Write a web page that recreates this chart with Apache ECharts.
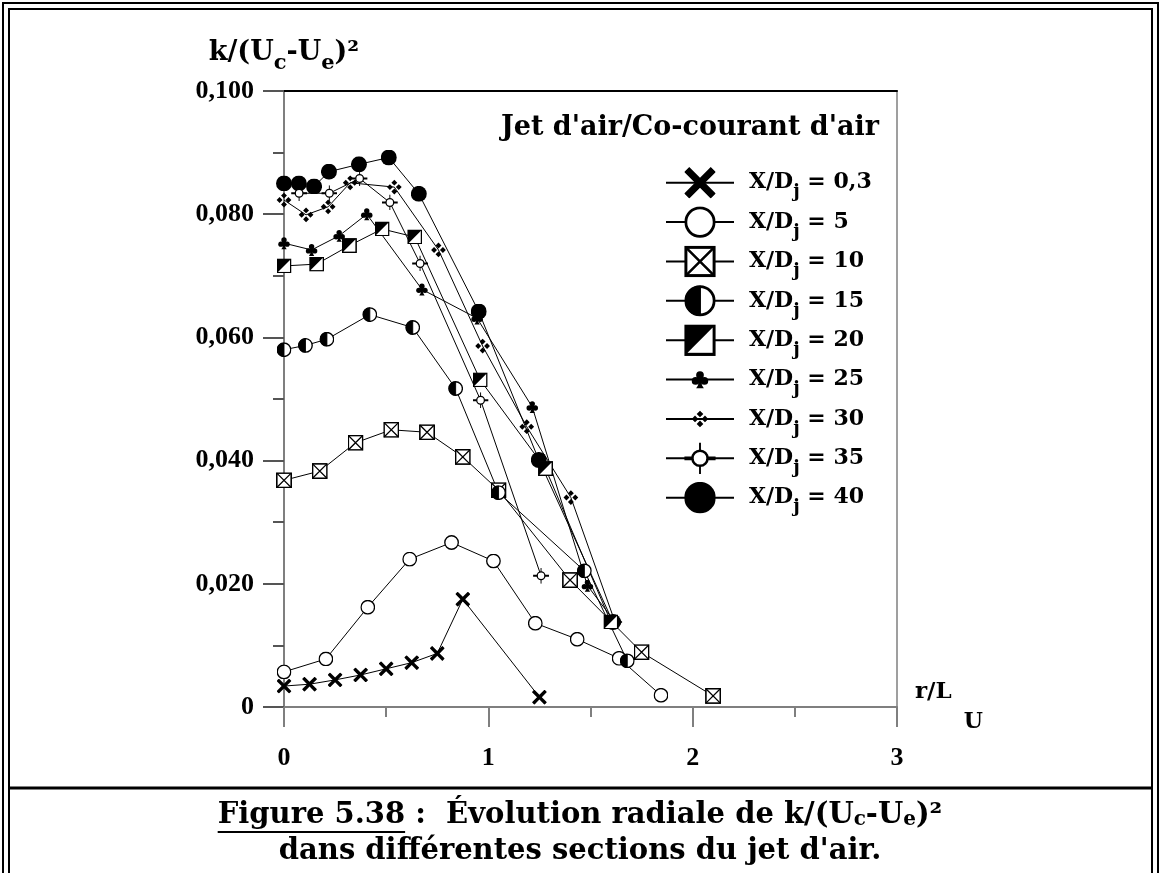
<!DOCTYPE html>
<html>
<head>
<meta charset="utf-8">
<script src="https://cdn.jsdelivr.net/npm/echarts@6/dist/echarts.min.js"></script>
<style>
html, body { margin: 0; padding: 0; background: #fff; }
#chart { width: 1161px; height: 873px; }
</style>
</head>
<body>
<div id="chart"></div>
<script>
// valeurs : r/L_U et k/(Uc-Ue)^2 pour chaque section X/Dj
var sections = ['0,3', '5', '10', '15', '20', '25', '30', '35', '40'];

var r03 = [0, 0.125, 0.25, 0.375, 0.5, 0.625, 0.75, 0.875, 1.25];
var k03 = [0.0034, 0.0037, 0.0044, 0.0052, 0.0062, 0.0072, 0.0087, 0.0175, 0.0016];

var r05 = [0, 0.205, 0.41, 0.615, 0.82, 1.025, 1.23, 1.435, 1.64, 1.845];
var k05 = [0.0057, 0.0078, 0.0162, 0.0240, 0.0267, 0.0237, 0.0136, 0.0110, 0.0079, 0.0019];

var r10 = [0, 0.175, 0.35, 0.525, 0.7, 0.875, 1.05, 1.4, 1.75, 2.1];
var k10 = [0.0368, 0.0383, 0.0429, 0.0450, 0.0446, 0.0406, 0.0352, 0.0206, 0.0089, 0.0018];

var r15 = [0, 0.105, 0.21, 0.42, 0.63, 0.84, 1.05, 1.47, 1.68];
var k15 = [0.0580, 0.0587, 0.0597, 0.0637, 0.0616, 0.0517, 0.0348, 0.0221, 0.0075];

var r20 = [0, 0.16, 0.32, 0.48, 0.64, 0.96, 1.28, 1.6];
var k20 = [0.0716, 0.0719, 0.0749, 0.0776, 0.0763, 0.0531, 0.0387, 0.0138];

var r25 = [0, 0.135, 0.27, 0.405, 0.675, 0.945, 1.215, 1.485, 1.62];
var k25 = [0.0753, 0.0742, 0.0765, 0.0800, 0.0678, 0.0631, 0.0487, 0.0197, 0.0138];

var r30 = [0, 0.108, 0.216, 0.324, 0.54, 0.756, 0.972, 1.188, 1.404, 1.62];
var k30 = [0.0823, 0.0799, 0.0812, 0.0851, 0.0844, 0.0742, 0.0586, 0.0455, 0.0340, 0.0138];

var r35 = [0.074, 0.222, 0.37, 0.518, 0.666, 0.962, 1.258];
var k35 = [0.0834, 0.0834, 0.0858, 0.0819, 0.0720, 0.0498, 0.0213];

var r40 = [0, 0.073, 0.147, 0.22, 0.367, 0.513, 0.66, 0.953, 1.247, 1.61];
var k40 = [0.0850, 0.0850, 0.0845, 0.0869, 0.0881, 0.0892, 0.0833, 0.0642, 0.0401, 0.0138];

var xTickLabels = ['0', '1', '2', '3'];
var yTickLabels = ['0', '0,020', '0,040', '0,060', '0,080', '0,100'];

var FONT = '"DejaVu Serif", serif';
var NUMFONT = '"Liberation Serif", serif';

// symboles dessinés en svg (parties blanches + noires)
function svgSym(body, vb) {
  vb = vb || '0 0 100 100';
  var p = vb.split(' ');
  var s = '<svg xmlns="http://www.w3.org/2000/svg" width="' + p[2] + '" height="' + p[3] +
    '" viewBox="' + vb + '">' + body + '</svg>';
  return 'image://data:image/svg+xml;charset=utf-8,' + encodeURIComponent(s);
}

var symCross = svgSym('<path d="M0,16 L16,0 L50,34 L84,0 L100,16 L66,50 L100,84 L84,100 L50,66 L16,100 L0,84 L34,50 Z" fill="#000"/>');
var symCircle = svgSym('<circle cx="50" cy="50" r="45" fill="#fff" stroke="#000" stroke-width="9"/>');
var symBoxX = svgSym('<rect x="5" y="5" width="90" height="90" fill="#fff" stroke="#000" stroke-width="10"/>' +
  '<path d="M5,5 L95,95 M95,5 L5,95" stroke="#000" stroke-width="8"/>');
var symHalfCircle = svgSym('<circle cx="50" cy="50" r="45" fill="#fff" stroke="#000" stroke-width="9"/>' +
  '<path d="M50,5 A45,45 0 0 0 50,95 Z" fill="#000" stroke="#000" stroke-width="6"/>');
var symHalfSquare = svgSym('<rect x="5" y="5" width="90" height="90" fill="#fff" stroke="#000" stroke-width="10"/>' +
  '<path d="M5,5 L95,5 L5,95 Z" fill="#000"/>');
var symClub = svgSym('<g fill="#000"><circle cx="50" cy="24" r="22"/><circle cx="25" cy="58" r="22"/>' +
  '<circle cx="75" cy="58" r="22"/><circle cx="50" cy="52" r="16"/>' +
  '<path d="M46,50 L54,50 L62,84 L72,100 L28,100 L38,84 Z"/></g>', '-40 -40 180 180');
var symDiamonds = svgSym('<path fill="#000" d="M50,0 L70,20 L50,40 L30,20 Z M20,30 L40,50 L20,70 L0,50 Z ' +
  'M80,30 L100,50 L80,70 L60,50 Z M50,60 L70,80 L50,100 L30,80 Z"/>', '-45 -45 190 190');
var symTarget = svgSym('<path d="M0,50 L100,50" stroke="#000" stroke-width="12"/>' +
  '<path d="M50,0 L50,100" stroke="#000" stroke-width="6"/>' +
  '<circle cx="50" cy="50" r="24" fill="#fff" stroke="#000" stroke-width="8"/>');
var symDisc = svgSym('<circle cx="50" cy="50" r="50" fill="#000"/>');

function pairs(r, k) {
  var out = [];
  for (var i = 0; i < r.length; i++) {
    out.push([r[i], k[i]]);
  }
  return out;
}

var seriesDefs = [
  [r03, k03, symCross, 15],
  [r05, k05, symCircle, 15],
  [r10, k10, symBoxX, 16],
  [r15, k15, symHalfCircle, 15],
  [r40, k40, symDisc, 16],
  [r25, k25, symClub, 22],
  [r30, k30, symDiamonds, 28],
  [r35, k35, symTarget, 16],
  [r20, k20, symHalfSquare, 15]
];
var seriesNames = [sections[0], sections[1], sections[2], sections[3], sections[8],
  sections[5], sections[6], sections[7], sections[4]];

var series = [];
for (var i = 0; i < seriesDefs.length; i++) {
  series.push({
    name: seriesNames[i],
    type: 'line',
    data: pairs(seriesDefs[i][0], seriesDefs[i][1]),
    symbol: seriesDefs[i][2],
    symbolSize: seriesDefs[i][3],
    showAllSymbol: true,
    lineStyle: { color: '#000', width: 1 },
    itemStyle: { color: '#000' },
    emphasis: { disabled: true }
  });
}

// largeur de texte, pour placer le soulignement de la légende de figure
var ctx = document.createElement('canvas').getContext('2d');
function tw(t, size) {
  ctx.font = 'bold ' + size + 'px "DejaVu Serif"';
  return ctx.measureText(t).width;
}
var capSize = 29, capSub = 20;
var capParts = ['Figure 5.38', ' :  Évolution radiale de k/(U', 'c', '-U', 'e', ')²'];
var capW = tw(capParts[0], capSize) + tw(capParts[1], capSize) + tw(capParts[2], capSub) +
  tw(capParts[3], capSize) + tw(capParts[4], capSub) + tw(capParts[5], capSize);
var capLeft = 580 - capW / 2;

var chart = echarts.init(document.getElementById('chart'));
chart.setOption({
  animation: false,
  backgroundColor: '#fff',
  title: {
    text: "Jet d'air/Co-courant d'air",
    left: 501, top: 114, padding: 0,
    textStyle: { fontFamily: FONT, fontWeight: 'bold', fontSize: 27, color: '#000' }
  },
  legend: {
    orient: 'vertical',
    left: 660, top: 162,
    itemWidth: 68, itemHeight: 39.4, itemGap: 4.6,
    selectedMode: false,
    data: sections,
    formatter: function (n) { return '{a|X/D}{s|j}{b| = ' + n + '}'; },
    textStyle: {
      fontFamily: FONT, fontWeight: 'bold', color: '#000',
      rich: {
        a: { fontFamily: FONT, fontWeight: 'bold', fontSize: 22, color: '#000', padding: [0, 0, 0, 10] },
        s: { fontFamily: FONT, fontWeight: 'bold', fontSize: 18, color: '#000', padding: [20, 0, 0, 0] },
        b: { fontFamily: FONT, fontWeight: 'bold', fontSize: 22, color: '#000' }
      }
    }
  },
  grid: { left: 284, right: 264, top: 91, bottom: 166, outerBoundsMode: 'none' },
  xAxis: [{
    type: 'value', min: 0, max: 3, interval: 1,
    axisLine: { show: true, onZero: false, lineStyle: { color: '#7f7f7f', width: 2 } },
    axisTick: { show: true, length: 20, lineStyle: { color: '#7f7f7f', width: 2 } },
    minorTick: { show: true, splitNumber: 2, length: 10, lineStyle: { color: '#7f7f7f', width: 2 } },
    splitLine: { show: false },
    axisLabel: {
      margin: 38, fontFamily: NUMFONT, fontWeight: 'bold', fontSize: 26, color: '#000',
      formatter: function (v) { return xTickLabels[Math.round(v)]; }
    },
    name: '{a|r/L}{u|U}',
    nameLocation: 'end', nameGap: 18,
    nameTextStyle: {
      rich: {
        a: { fontFamily: FONT, fontWeight: 'bold', fontSize: 23, color: '#000', padding: [0, 0, 30, 0] },
        u: { fontFamily: FONT, fontWeight: 'bold', fontSize: 22, color: '#000', padding: [30, 0, 0, 12] }
      }
    }
  }, {
    type: 'value', position: 'top', min: 0, max: 3,
    axisLine: { show: true, onZero: false, lineStyle: { color: '#000', width: 2 } },
    axisTick: { show: false }, axisLabel: { show: false }, splitLine: { show: false }
  }],
  yAxis: [{
    type: 'value', min: 0, max: 0.1, interval: 0.02,
    axisLine: { show: true, onZero: false, lineStyle: { color: '#7f7f7f', width: 2 } },
    axisTick: { show: true, length: 21, lineStyle: { color: '#555', width: 2 } },
    minorTick: { show: true, splitNumber: 2, length: 11, lineStyle: { color: '#555', width: 2 } },
    splitLine: { show: false },
    axisLabel: {
      margin: 30, fontFamily: NUMFONT, fontWeight: 'bold', fontSize: 26, color: '#000',
      formatter: function (v) { return yTickLabels[Math.round(v / 0.02)]; }
    },
    name: '{a|k/(U}{s|c}{a|-U}{s|e}{a|)²}',
    nameLocation: 'end', nameGap: 17,
    nameTextStyle: {
      rich: {
        a: { fontFamily: FONT, fontWeight: 'bold', fontSize: 27, color: '#000' },
        s: { fontFamily: FONT, fontWeight: 'bold', fontSize: 21, color: '#000', padding: [22, 0, 0, 0] }
      }
    }
  }, {
    type: 'value', position: 'right', min: 0, max: 0.1,
    axisLine: { show: true, onZero: false, lineStyle: { color: '#7f7f7f', width: 1.5 } },
    axisTick: { show: false }, axisLabel: { show: false }, splitLine: { show: false }
  }],
  series: series,
  graphic: [
    { type: 'rect', silent: true, shape: { x: 3, y: 3, width: 1155, height: 900 }, style: { fill: 'none', stroke: '#000', lineWidth: 2 } },
    { type: 'rect', silent: true, shape: { x: 9, y: 9, width: 1143, height: 900 }, style: { fill: 'none', stroke: '#000', lineWidth: 2 } },
    { type: 'line', silent: true, shape: { x1: 9, y1: 788, x2: 1152, y2: 788 }, style: { stroke: '#000', lineWidth: 3 } },
    {
      type: 'text', silent: true, x: capLeft, y: 815,
      style: {
        text: '{f|' + capParts[0] + '}{m|' + capParts[1] + '}{s|' + capParts[2] + '}{m|' + capParts[3] +
          '}{s|' + capParts[4] + '}{m|' + capParts[5] + '}',
        align: 'left', verticalAlign: 'middle',
        rich: {
          f: { fontFamily: FONT, fontWeight: 'bold', fontSize: capSize, fill: '#000' },
          m: { fontFamily: FONT, fontWeight: 'bold', fontSize: capSize, fill: '#000' },
          s: { fontFamily: FONT, fontWeight: 'bold', fontSize: capSub, fill: '#000', padding: [9, 0, 0, 0] }
        }
      }
    },
    { type: 'line', silent: true, shape: { x1: capLeft, y1: 832, x2: capLeft + tw(capParts[0], capSize), y2: 832 }, style: { stroke: '#000', lineWidth: 2 } },
    {
      type: 'text', silent: true, x: 580, y: 851,
      style: {
        text: "dans différentes sections du jet d'air.",
        align: 'center', verticalAlign: 'middle',
        fontFamily: FONT, fontWeight: 'bold', fontSize: capSize, fill: '#000'
      }
    }
  ]
});
</script>
</body>
</html>
